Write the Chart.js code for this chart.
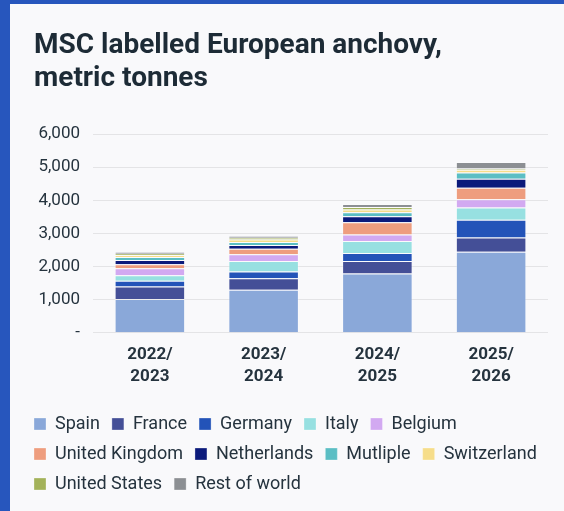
<!DOCTYPE html>
<html>
<head>
<meta charset="utf-8">
<script src="https://cdn.jsdelivr.net/npm/chart.js@4.4.1/dist/chart.umd.min.js"></script>
<style>
  html, body { margin: 0; padding: 0; background: #f9f9fb; }
  #frame {
    position: absolute; left: 0; top: 0; width: 564px; height: 511px;
    box-sizing: border-box; border-left: 10px solid #2756bd; border-top: 4px solid #2756bd;
    background: #f9f9fb;
  }
  #wrap { position: absolute; left: 10px; top: 4px; width: 554px; height: 507px; }
</style>
</head>
<body>
<div id="frame"></div>
<div id="wrap"><canvas id="chart-canvas"></canvas></div>
<script>
//////////////////////////////////////////////////
/////       Data                    //////////////
//////////////////////////////////////////////////

var seasons = [["2022/", "2023"], ["2023/", "2024"], ["2024/", "2025"], ["2025/", "2026"]];
var yTicks = [0, 1000, 2000, 3000, 4000, 5000, 6000];

var spain       = [1020, 1300, 1790, 2450];
var france      = [380, 350, 380, 430];
var germany     = [170, 200, 240, 530];
var italy       = [170, 320, 360, 370];
var belgium     = [210, 200, 200, 250];
var uk          = [120, 170, 370, 350];
var netherlands = [130, 110, 180, 270];
var multiple    = [90, 90, 120, 190];
var switzerland = [60, 80, 80, 80];
var us          = [40, 50, 80, 40];
var restOfWorld = [60, 60, 90, 200];

var textColor = "#25333e";
var fontName = "Roboto";
var legendPad = 12;

function series(label, data, color) {
    return {
        label: label,
        data: data,
        backgroundColor: color,
        borderColor: "rgba(255,255,255,0.3)",
        borderWidth: 1,
        categoryPercentage: 1,
        barPercentage: 0.62
    };
}

// nudge legend left so it lines up with the title
var legendShift = {
    id: "legendShift",
    afterLayout: function (chart) {
        chart.legend.left -= legendPad;
        chart.legend.right -= legendPad;
    }
};

//////////////////////////////////////////////////
/////       Chart                   //////////////
//////////////////////////////////////////////////

var ctx = document.getElementById('chart-canvas').getContext('2d');
var myChart = new Chart(ctx, {
    type: 'bar',
    data: {
        labels: seasons,
        datasets: [
            series("Spain", spain, "#8aa8d9"),
            series("France", france, "#444f97"),
            series("Germany", germany, "#2353b8"),
            series("Italy", italy, "#97e0e1"),
            series("Belgium", belgium, "#d2a9f1"),
            series("United Kingdom", uk, "#ee9d7e"),
            series("Netherlands", netherlands, "#0b1a7b"),
            series("Mutliple", multiple, "#5bbec4"),
            series("Switzerland", switzerland, "#f6dd8a"),
            series("United States", us, "#a3b25a"),
            series("Rest of world", restOfWorld, "#8c8f93")
        ]
    },
    plugins: [legendShift],
    options: {
        responsive: true,
        maintainAspectRatio: false,
        animation: false,
        layout: { padding: { left: 24, right: 0, top: 14, bottom: 8 } },
        plugins: {
            title: {
                display: true,
                text: ["MSC labelled European anchovy,", "metric tonnes"],
                align: "start",
                color: "#1d2b36",
                font: { family: fontName, size: 28, weight: "bold", lineHeight: 1.18 },
                padding: { top: 11, bottom: 39 }
            },
            legend: {
                position: "bottom",
                align: "start",
                labels: {
                    boxWidth: 12,
                    boxHeight: 12,
                    padding: legendPad,
                    color: textColor,
                    font: { family: fontName, size: 18 }
                }
            },
            tooltip: { enabled: false }
        },
        scales: {
            x: {
                stacked: true,
                grid: { display: false, drawTicks: false },
                border: { display: false },
                afterFit: function (axis) {
                    axis.height += 4;
                    axis.paddingRight = 16;
                },
                ticks: {
                    color: textColor,
                    padding: 11,
                    font: { family: fontName, size: 17, weight: "bold", lineHeight: 1.3 }
                }
            },
            y: {
                stacked: true,
                min: 0,
                max: 6000,
                afterBuildTicks: function (axis) {
                    axis.ticks = yTicks.map(function (v) { return { value: v }; });
                },
                afterFit: function (axis) { axis.width = 59; },
                grid: { color: "#e4e4e6", drawTicks: false },
                border: { display: false },
                ticks: {
                    color: textColor,
                    padding: 13,
                    font: { family: fontName, size: 17 },
                    callback: function (value) {
                        return value === 0 ? "-" : value.toLocaleString("en-US");
                    }
                }
            }
        }
    }
});
</script>
</body>
</html>
